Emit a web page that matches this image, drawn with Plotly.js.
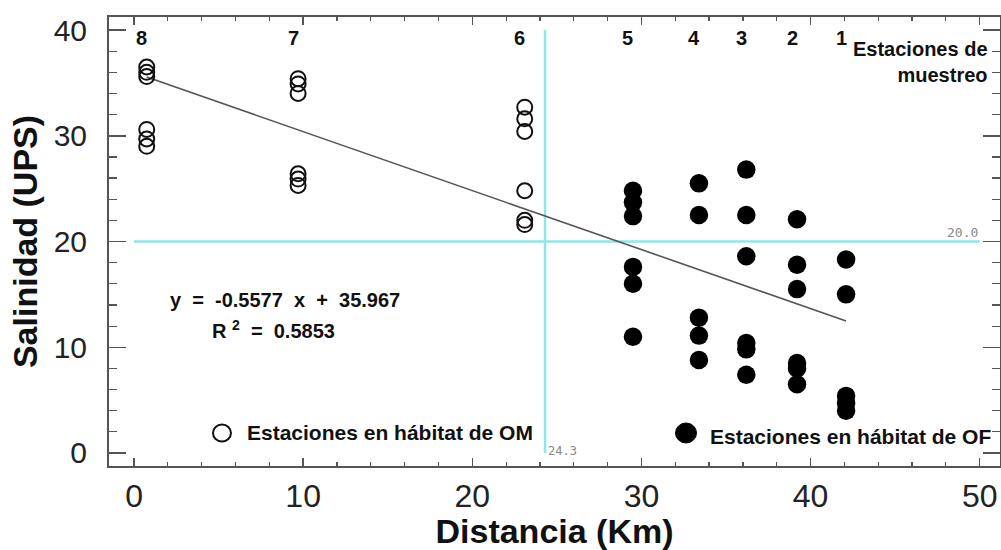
<!DOCTYPE html>
<html>
<head>
<meta charset="utf-8">
<script src="https://cdn.plot.ly/plotly-3.0.1.min.js"></script>
<style>html,body{margin:0;padding:0;background:#fff;}#chart{width:1001px;height:550px;}</style>
</head>
<body>
<div id="chart"></div>
<script>
// Station numbers and their distance (Km)
const stationNames = ['8', '7', '6', '5', '4', '3', '2', '1'];
const stationX = [0.75, 9.7, 23.1, 29.5, 33.4, 36.2, 39.2, 42.1];

// Salinity (UPS) readings, stations in OM habitat (open circles)
const sal8 = [36.5, 36.0, 35.6, 30.6, 29.7, 29.0];
const sal7 = [35.4, 34.9, 34.0, 26.4, 25.9, 25.3];
const sal6 = [32.7, 31.6, 30.4, 24.8, 22.0, 21.6];
// Salinity (UPS) readings, stations in OF habitat (filled circles)
const sal5 = [24.8, 23.7, 22.4, 17.6, 16.0, 11.0];
const sal4 = [25.5, 22.5, 12.8, 11.1, 8.8];
const sal3 = [26.8, 22.5, 18.6, 10.4, 9.8, 7.4];
const sal2 = [22.1, 17.8, 15.5, 8.5, 8.0, 6.5];
const sal1 = [18.3, 15.0, 5.4, 4.7, 4.0];

// Linear fit printed on the chart
const slope = -0.5577;
const intercept = 35.967;
const r2 = 0.5853;

// Reference lines
const refX = 24.3;
const refY = 20.0;

const xTicks = [0, 10, 20, 30, 40, 50];
const yTicks = [0, 10, 20, 30, 40];

function flatten(xs, groups) {
  const x = [], y = [];
  groups.forEach((g, i) => g.forEach(v => { x.push(xs[i]); y.push(v); }));
  return {x, y};
}
const om = flatten(stationX.slice(0, 3), [sal8, sal7, sal6]);
const of = flatten(stationX.slice(3), [sal5, sal4, sal3, sal2, sal1]);

const xFitStart = Math.min(...stationX);
const xFitEnd = Math.max(...stationX);

const FONT = 'Liberation Sans, Arial, sans-serif';
const INK = '#111';
const AX = '#555';

const traces = [
  {x: [refX, refX], y: [0, 40], mode: 'lines', line: {color: '#8fe6e8', width: 2.5}, hoverinfo: 'skip', showlegend: false},
  {x: [0, 50], y: [refY, refY], mode: 'lines', line: {color: '#8fe6e8', width: 2.5}, hoverinfo: 'skip', showlegend: false},
  {x: [xFitStart, xFitEnd], y: [slope * xFitStart + intercept, slope * xFitEnd + intercept], mode: 'lines',
   line: {color: '#555', width: 1.6}, showlegend: false},
  {x: om.x, y: om.y, mode: 'markers', name: 'OM',
   marker: {symbol: 'circle-open', size: 15, color: '#111', line: {width: 2, color: '#111'}}, showlegend: false},
  {x: of.x, y: of.y, mode: 'markers', name: 'OF',
   marker: {symbol: 'circle', size: 18.5, color: '#000'}, showlegend: false}
];

const annotations = stationNames.map((s, i) => ({
  x: stationX[i], xref: 'x', y: 0.953, yref: 'paper', yanchor: 'middle', xanchor: 'center',
  text: s, showarrow: false,
  xshift: -5, font: {family: FONT, size: 20, weight: 'bold', color: INK}
}));

annotations.push(
  {x: 0.9888, y: 0.958, xref: 'paper', yref: 'paper', xanchor: 'right', yanchor: 'top', align: 'right',
   text: 'Estaciones de<br>muestreo', showarrow: false,
   font: {family: FONT, size: 20, weight: 'bold', color: INK}},
  {x: 0.0662, y: 0.3697, xref: 'paper', yref: 'paper', xanchor: 'left', yanchor: 'middle',
   text: 'y\u00a0\u00a0=\u00a0\u00a0' + slope + '\u00a0\u00a0x\u00a0\u00a0+\u00a0\u00a0' + intercept.toFixed(3), showarrow: false,
   font: {family: FONT, size: 20, weight: 'bold', color: INK}},
  {x: 0.1134, y: 0.3029, xref: 'paper', yref: 'paper', xanchor: 'left', yanchor: 'middle',
   text: 'R\u00a0<sup>2</sup>\u00a0\u00a0=\u00a0\u00a0' + r2.toFixed(4), showarrow: false,
   font: {family: FONT, size: 20, weight: 'bold', color: INK}},
  {x: 0.1526, y: 0.0735, xref: 'paper', yref: 'paper', xanchor: 'left', yanchor: 'middle',
   text: 'Estaciones en hábitat de OM', showarrow: false,
   font: {family: FONT, size: 21, weight: 'bold', color: INK}},
  {x: 0.6723, y: 0.0646, xref: 'paper', yref: 'paper', xanchor: 'left', yanchor: 'middle',
   text: 'Estaciones en hábitat de OF', showarrow: false,
   font: {family: FONT, size: 21, weight: 'bold', color: INK}},
  {x: 50, y: refY, xref: 'x', yref: 'y', xanchor: 'right', yanchor: 'bottom', yshift: 0,
   text: refY.toFixed(1), showarrow: false, font: {family: 'DejaVu Sans Mono, monospace', size: 13, color: '#888'}},
  {x: refX, y: 0, xref: 'x', yref: 'y', xanchor: 'left', yanchor: 'middle', xshift: 1, yshift: 2,
   text: refX.toFixed(1), showarrow: false, font: {family: 'DejaVu Sans Mono, monospace', size: 12, color: '#888'}}
);

const shapes = [
  {type: 'circle', xref: 'paper', yref: 'paper', xsizemode: 'pixel', ysizemode: 'pixel',
   xanchor: 0.1268, yanchor: 0.0735, x0: -9, x1: 9, y0: -8.5, y1: 8.5,
   line: {color: '#111', width: 2}, fillcolor: 'rgba(0,0,0,0)'},
  {type: 'circle', xref: 'paper', yref: 'paper', xsizemode: 'pixel', ysizemode: 'pixel',
   xanchor: 0.6476, yanchor: 0.0735, x0: -10.5, x1: 10.5, y0: -10, y1: 10,
   line: {color: '#000', width: 1}, fillcolor: '#000'}
];

const layout = {
  width: 1001, height: 550,
  margin: {l: 109, r: 1, t: 17, b: 84},
  paper_bgcolor: '#fff', plot_bgcolor: '#fff',
  showlegend: false,
  xaxis: {
    range: [-1.48, 51.2], tickvals: xTicks, ticktext: xTicks.map(String),
    ticks: 'inside', ticklen: 8, tickwidth: 1.5, tickcolor: AX,
    minor: {dtick: 2, tick0: 0, ticks: 'inside', ticklen: 4, tickwidth: 1.2, tickcolor: AX},
    showline: true, linecolor: AX, linewidth: 2, mirror: 'ticks',
    showgrid: false, zeroline: false,
    tickfont: {family: FONT, size: 32, color: '#222'}, ticklabelstandoff: 1,
    title: {text: 'Distancia (Km)', font: {family: FONT, size: 34, weight: 'bold', color: INK}, standoff: 18}
  },
  yaxis: {
    range: [-1.23, 41.23], tickvals: yTicks, ticktext: yTicks.map(String),
    ticks: 'inside', ticklen: 17, tickwidth: 1.5, tickcolor: AX,
    minor: {dtick: 2, tick0: 0, ticks: 'inside', ticklen: 8, tickwidth: 1.2, tickcolor: AX},
    showline: true, linecolor: AX, linewidth: 2, mirror: 'ticks',
    showgrid: false, zeroline: false,
    tickfont: {family: FONT, size: 30, color: '#222'}, ticklabelstandoff: 14,
    title: {text: 'Salinidad (UPS)', font: {family: FONT, size: 34, weight: 'bold', color: INK}, standoff: 6}
  },
  annotations: annotations,
  shapes: shapes
};

Plotly.newPlot('chart', traces, layout, {displayModeBar: false, staticPlot: true});
</script>
</body>
</html>
